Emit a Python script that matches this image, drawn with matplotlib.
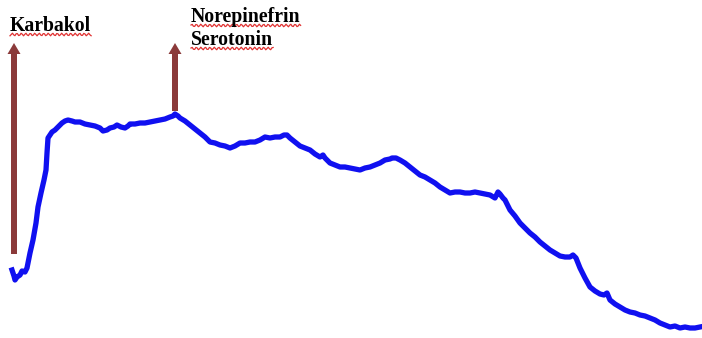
import numpy as np
import matplotlib
matplotlib.use("Agg")
import matplotlib.pyplot as plt

# tension trace (time, deflection); deflection grows downward
t = [12, 14, 15, 17, 20, 22, 25, 27, 28, 30,
     33, 36, 38, 41, 44, 46, 47, 48, 50, 52,
     55, 57, 60, 62, 65, 68, 72, 75, 80, 85,
     90, 95, 100, 103, 107, 110, 114, 117, 121, 125,
     128, 130, 135, 140, 145, 150, 155, 160, 165, 170,
     173, 175, 178, 180, 185, 190, 195, 200, 205, 210,
     215, 220, 225, 230, 235, 240, 245, 250, 255, 260,
     265, 270, 275, 280, 284, 287, 290, 295, 300, 305,
     310, 315, 320, 323, 325, 330, 335, 340, 345, 350,
     355, 360, 365, 370, 375, 380, 385, 390, 392, 396,
     400, 405, 410, 415, 420, 425, 430, 435, 440, 445,
     450, 455, 460, 465, 470, 475, 480, 485, 490, 495,
     498, 500, 503, 505, 510, 515, 520, 525, 530, 535,
     540, 545, 550, 555, 560, 565, 570, 573, 576, 580,
     585, 590, 595, 600, 604, 607, 610, 615, 620, 625,
     630, 635, 640, 645, 650, 655, 660, 665, 670, 675,
     680, 685, 690, 695, 700]
deflection = [270, 276, 280, 277, 275, 271, 272, 268, 263, 253,
              240, 223, 207, 193, 180, 170, 153, 138, 135, 132,
              130, 128, 125, 123, 121, 120, 121, 122, 122, 124,
              125, 126, 128, 131, 130, 128, 127, 125, 127, 128,
              126, 124, 124, 123, 123, 122, 121, 120, 119, 117,
              116, 114, 116, 118, 121, 125, 129, 133, 137, 142,
              143, 145, 146, 148, 146, 143, 143, 142, 142, 140,
              137, 138, 137, 137, 135, 135, 138, 142, 146, 148,
              150, 154, 157, 155, 158, 163, 165, 167, 167, 168,
              169, 170, 168, 167, 165, 163, 160, 159, 158, 158,
              160, 163, 167, 171, 175, 177, 180, 183, 187, 190,
              193, 192, 192, 193, 193, 192, 193, 194, 195, 198,
              192, 194, 198, 200, 210, 216, 223, 228, 233, 237,
              242, 246, 250, 253, 256, 257, 257, 255, 258, 268,
              278, 287, 291, 294, 295, 293, 300, 304, 307, 310,
              312, 313, 315, 316, 318, 320, 323, 325, 327, 326,
              328, 327, 328, 328, 327]

# drug additions
drug_t = [14, 175]
drug_labels = [["Karbakol"], ["Norepinefrin", "Serotonin"]]
arrow_base = [254, 111]
label_x = [10, 191]
label_base = [[31], [22, 45]]

W, H = 702, 338
fig = plt.figure(figsize=(W / 100, H / 100), dpi=100)
ax = fig.add_axes([0, 0, 1, 1])
ax.set_xlim(0, W)
ax.set_ylim(H, 0)
ax.axis("off")

ax.plot(t, deflection, color="#1010f0", lw=3.8, solid_joinstyle="round")

arrow_col = "#8b3a3a"
for x, yb in zip(drug_t, arrow_base):
    ax.arrow(x, yb, 0, 43 - yb, width=6, head_width=13, head_length=11,
             length_includes_head=True, color=arrow_col, lw=0)

# labels with the squiggly underline
for x, lines, ys in zip(label_x, drug_labels, label_base):
    for s, y in zip(lines, ys):
        tx = ax.text(x, y, s, fontsize=14.2, fontweight="bold",
                     family="Liberation Serif", va="baseline", ha="left")
        fig.canvas.draw()
        bb = tx.get_window_extent().transformed(ax.transData.inverted())
        x0, x1 = bb.x0, bb.x1
        xs = np.linspace(x0, x1, int((x1 - x0) / 1.2))
        wy = y + 3.5 + 1.3 * np.sin(xs * 1.4)
        ax.plot(xs, wy, color="#e03030", lw=0.9)

fig.savefig("out.png", dpi=100)
